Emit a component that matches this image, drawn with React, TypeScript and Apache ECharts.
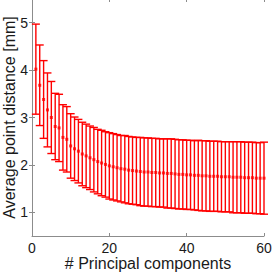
import React, { useEffect, useRef } from "react";
import * as echarts from "echarts";

const components: number[] = Array.from({ length: 60 }, (_, i) => i + 1);

const meanDist: number[] = [
  4.02, 3.68, 3.38, 3.16, 3.0, 2.81, 2.78, 2.58, 2.54, 2.4,
  2.34, 2.29, 2.23, 2.19, 2.15, 2.11, 2.07, 2.04, 2.01, 1.98,
  1.96, 1.94, 1.92, 1.91, 1.89, 1.88, 1.87, 1.86, 1.85, 1.85,
  1.84, 1.84, 1.83, 1.83, 1.82, 1.82, 1.81, 1.8, 1.8, 1.79,
  1.79, 1.78, 1.78, 1.77, 1.77, 1.76, 1.76, 1.76, 1.75, 1.75,
  1.75, 1.74, 1.74, 1.74, 1.73, 1.73, 1.73, 1.72, 1.72, 1.72,
];

const stdDist: number[] = [
  0.95, 0.85, 0.82, 0.78, 0.76, 0.7, 0.71, 0.69, 0.69, 0.68,
  0.67, 0.67, 0.67, 0.67, 0.67, 0.68, 0.68, 0.69, 0.69, 0.7,
  0.7, 0.7, 0.7, 0.71, 0.71, 0.71, 0.71, 0.72, 0.72, 0.72,
  0.72, 0.72, 0.72, 0.72, 0.73, 0.73, 0.73, 0.73, 0.73, 0.73,
  0.73, 0.73, 0.74, 0.74, 0.74, 0.74, 0.74, 0.74, 0.74, 0.74,
  0.74, 0.75, 0.75, 0.75, 0.75, 0.75, 0.75, 0.75, 0.75, 0.76,
];

const xTicks: number[] = [0, 20, 40, 60];
const yTicks: number[] = [1, 2, 3, 4, 5];

const RED = "#ff0000";
const AXIS = "#8c8c8c";
const TEXT = "#1a1a1a";
const FONT = "Liberation Sans, Arial, Helvetica, sans-serif";

export default function App() {
  const ref = useRef<HTMLDivElement>(null);
  useEffect(() => {
    if (!ref.current) return;
    const chart = echarts.init(ref.current, null, { renderer: "svg" });
    const errData = components.map((c, i) => [c, meanDist[i] - stdDist[i], meanDist[i] + stdDist[i]]);
    const meanData = components.map((c, i) => [c, meanDist[i]]);
    const axisCommon = {
      axisLine: { show: true, lineStyle: { color: AXIS, width: 1 } },
      axisTick: { show: true, inside: true, length: 3, lineStyle: { color: AXIS } },
      splitLine: { show: false },
    };
    chart.setOption({
      animation: false,
      backgroundColor: "#ffffff",
      grid: { left: 32, right: 9, top: -1, bottom: 37, containLabel: false, outerBoundsMode: "none" },
      xAxis: [
        {
          type: "value",
          min: 0,
          max: 60,
          interval: 20,
          position: "bottom",
          ...axisCommon,
          axisTick: { ...axisCommon.axisTick, customValues: xTicks },
          axisLabel: { color: TEXT, fontSize: 14, fontFamily: FONT, margin: 5, customValues: xTicks },
          name: "# Principal components",
          nameLocation: "middle",
          nameGap: 19,
          nameMoveOverlap: false,
          nameTextStyle: { color: TEXT, fontSize: 16, fontFamily: FONT },
        },
        {
          type: "value",
          min: 0,
          max: 60,
          interval: 20,
          position: "top",
          ...axisCommon,
          axisTick: { ...axisCommon.axisTick, customValues: xTicks },
          axisLabel: { show: false },
        },
      ],
      yAxis: [
        {
          type: "value",
          min: 0.5,
          max: 5.5,
          position: "left",
          ...axisCommon,
          axisTick: { ...axisCommon.axisTick, customValues: yTicks },
          axisLabel: { color: TEXT, fontSize: 14, fontFamily: FONT, margin: 4, customValues: yTicks },
          name: "Average point distance [mm]",
          nameLocation: "middle",
          nameGap: 15,
          nameMoveOverlap: false,
          nameTextStyle: { color: TEXT, fontSize: 16, fontFamily: FONT },
        },
        {
          type: "value",
          min: 0.5,
          max: 5.5,
          position: "right",
          ...axisCommon,
          axisTick: { ...axisCommon.axisTick, customValues: yTicks },
          axisLabel: { show: false },
        },
      ],
      series: [
        {
          type: "custom",
          xAxisIndex: 0,
          yAxisIndex: 0,
          data: errData,
          encode: { x: 0, y: [1, 2] },
          renderItem: (params: any, api: any) => {
            const x = api.value(0);
            const lo = api.coord([x, api.value(1)]);
            const hi = api.coord([x, api.value(2)]);
            const hw = 4;
            const style = { stroke: RED, lineWidth: 1.4 };
            return {
              type: "group",
              children: [
                { type: "line", shape: { x1: lo[0], y1: lo[1], x2: hi[0], y2: hi[1] }, style },
                { type: "line", shape: { x1: lo[0] - hw, y1: lo[1], x2: lo[0] + hw, y2: lo[1] }, style },
                { type: "line", shape: { x1: hi[0] - hw, y1: hi[1], x2: hi[0] + hw, y2: hi[1] }, style },
              ],
            };
          },
          z: 2,
        },
        {
          type: "scatter",
          data: meanData,
          symbol: "rect",
          symbolSize: 3,
          itemStyle: { color: RED },
          z: 3,
        },
      ],
    });
    return () => chart.dispose();
  }, []);
  return (
    <div
      ref={ref}
      style={{ position: "fixed", left: 0, top: 0, width: 273, height: 273, background: "#fff" }}
    />
  );
}
